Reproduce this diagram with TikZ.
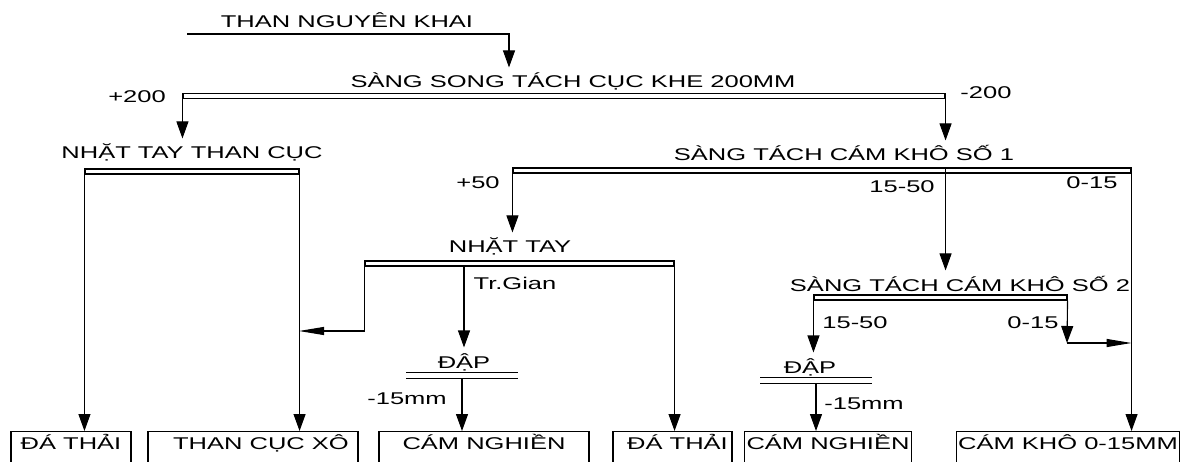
\documentclass[tikz,border=0pt]{standalone}
\usepackage{fontspec}
\setmainfont{Liberation Sans}[FakeStretch=1.5]
\usetikzlibrary{arrows.meta}

\begin{document}
\begin{tikzpicture}[x=1pt, y=-1pt, line width=1.1pt,
  font=\fontsize{17}{20}\selectfont,
  lbl/.style={inner sep=0pt, text height=12pt, text depth=0pt},
  screen/.style={draw, inner sep=0pt, minimum height=5pt},
  crusher/.style={inner sep=0pt, minimum height=5pt},
  product/.style={draw, anchor=north, inner xsep=2pt, inner ysep=6pt,
    text height=12pt, text depth=20pt},
  down/.style={-{Triangle[length=17pt,width=12pt]}},
  tolbl/.style={down, shorten >=8pt},
  side/.style={-{Triangle[length=25pt,width=8pt]}}]

  \useasboundingbox (0,0) rectangle (1180,462);
  \clip (0,0) rectangle (1180,462);

  % process names
  \node[lbl] (raw) at (347,22) {THAN NGUYÊN KHAI};
  \node[lbl] (sc0) at (573,82) {SÀNG SONG TÁCH CỤC KHE 200MM};
  \node[lbl] (nh0) at (192,153) {NHẶT TAY THAN CỤC};
  \node[lbl] (sc1) at (844,155) {SÀNG TÁCH CÁM KHÔ SỐ 1};
  \node[lbl] (nh1) at (510,247) {NHẶT TAY};
  \node[lbl] (sc2) at (960,285) {SÀNG TÁCH CÁM KHÔ SỐ 2};
  \node[lbl] (cr1) at (464,362) {ĐẬP};
  \node[lbl] (cr2) at (810,367) {ĐẬP};

  % screens and crushers
  \node[screen, minimum width=762pt] (s0) at (564,96) {};
  \node[screen, minimum width=214pt] (s1) at (192,171.5) {};
  \node[screen, minimum width=618pt] (s2) at (822,170.5) {};
  \node[screen, minimum width=309pt] (s3) at (519.5,263.5) {};
  \node[screen, minimum width=253pt] (s4) at (940.5,297.5) {};
  \node[crusher, minimum width=110pt] (c1) at (462,375.5) {};
  \node[crusher, minimum width=110pt] (c2) at (816,380.5) {};
  \draw (c1.north west) -- (c1.north east) (c1.south west) -- (c1.south east);
  \draw (c2.north west) -- (c2.north east) (c2.south west) -- (c2.south east);

  % products
  \node[product, minimum width=120pt] (o1) at (71,431) {ĐÁ THẢI};
  \node[product, minimum width=210pt] (o2) at (253,431) {\hspace*{16pt}THAN CỤC XÔ};
  \node[product, minimum width=210pt] (o3) at (484,431) {CÁM NGHIỀN};
  \node[product, minimum width=119pt] (o4) at (672.5,431) {\hspace*{10pt}ĐÁ THẢI};
  \node[product, minimum width=164pt] (o5) at (828,431) {CÁM NGHIỀN};
  \node[product, minimum width=218pt] (o6) at (1068,431) {CÁM KHÔ 0-15MM};

  % size classes
  \node[lbl] (k1) at (137,97) {+200};
  \node[lbl] (k2) at (986,93) {-200};
  \node[lbl] (k3) at (478,183) {+50};
  \node[lbl] (k4) at (902,187) {15-50};
  \node[lbl] (k5) at (1092,183) {0-15};
  \node[lbl] (k6) at (515,284) {Tr.Gian};
  \node[lbl] (k7) at (407,398) {-15mm};
  \node[lbl] (k8) at (855,322) {15-50};
  \node[lbl] (k9) at (1033,322) {0-15};
  \node[lbl] (k10) at (864,403) {-15mm};

  \coordinate (feed) at (187,34);
  \coordinate (drop) at (509,34);
  \coordinate (merge1) at (299,331);
  \coordinate (turn2) at (1067,343);

  % flows
  \draw[tolbl] (feed) -- (drop) -- (sc0.north -| drop);
  \draw[tolbl] (s0.south west) -- (nh0.north -| s0.south west);
  \draw[tolbl] (s0.south east) -- (sc1.north -| s0.south east);
  \draw[down] (s1.south west) -- (o1.north -| s1.south west);
  \draw[down] (s1.south east) -- (o2.north -| s1.south east);
  \draw[tolbl] (s2.south west) -- (nh1.north -| s2.south west);
  \draw[tolbl] (s2.north -| s0.east) -- (sc2.north -| s0.east);
  \draw[down] (s2.south east) -- (o6.north -| s2.south east);
  \draw[side] (s3.south west) |- (merge1);
  \draw[tolbl] (s3.south -| cr1.north) -- (cr1.north);
  \draw[down] (s3.south east) -- (o4.north -| s3.south east);
  \draw[down] (c1.south) -- (o3.north -| c1.south);
  \draw[tolbl] (s4.south west) -- (cr2.north -| s4.south west);
  \draw[down] (s4.south east) -- (turn2);
  \draw[side] (turn2) -- (s2.east |- turn2);
  \draw[down] (c2.south) -- (o5.north -| c2.south);
\end{tikzpicture}
\end{document}
